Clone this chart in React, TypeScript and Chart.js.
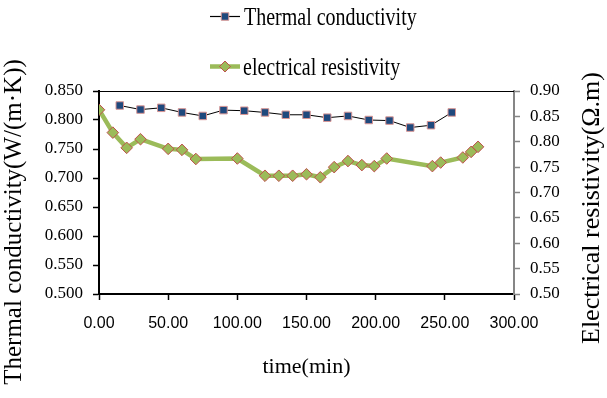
import React, { useEffect, useRef } from 'react';
import { Chart, registerables } from 'chart.js';

Chart.register(...registerables);

// ---- data ----
const thermalTimes = [15, 30, 45, 60, 75, 90, 105, 120, 135, 150, 165, 180, 195, 210, 225, 240, 255];
const thermalValues = [0.825, 0.818, 0.821, 0.813, 0.807, 0.817, 0.816, 0.813, 0.809, 0.809, 0.804, 0.807, 0.800, 0.799, 0.787, 0.791, 0.813];

const resistTimes = [0, 10, 20, 30, 50, 60, 70, 100, 120, 130, 140, 150, 160, 170, 180, 190, 199, 208, 241, 247, 263, 269, 274];
const resistValues = [0.863, 0.818, 0.788, 0.805, 0.786, 0.784, 0.766, 0.767, 0.733, 0.733, 0.733, 0.736, 0.730, 0.750, 0.762, 0.754, 0.752, 0.767, 0.752, 0.759, 0.769, 0.780, 0.790];

const xTickValues = [0, 50, 100, 150, 200, 250, 300];
const leftTickValues = [0.5, 0.55, 0.6, 0.65, 0.7, 0.75, 0.8, 0.85];
const rightTickValues = [0.5, 0.55, 0.6, 0.65, 0.7, 0.75, 0.8, 0.85, 0.9];

const thermalLabel = 'Thermal conductivity';
const resistLabel = 'electrical resistivity';
const xTitle = 'time(min)';
const leftTitle = 'Thermal conductivity(W/(m·K))';
const rightTitle = 'Electrical resistivity(Ω.m)';

const SERIF = '"Liberation Serif", "Times New Roman", serif';
const SANS = '"Liberation Sans", Arial, sans-serif';

const BLUE = '#1F497D';
const PINK = '#D99694';
const GREEN = '#9BBB59';
const RED = '#C0504D';

const decorPlugin = {
  id: 'decor',
  afterDraw(chart: any) {
    const { ctx, chartArea: a } = chart;
    ctx.save();
    // top border of plot area
    ctx.strokeStyle = '#000';
    ctx.lineWidth = 1;
    ctx.beginPath();
    ctx.moveTo(a.left, a.top + 0.5);
    ctx.lineTo(a.right, a.top + 0.5);
    ctx.stroke();

    // y axis titles
    ctx.fillStyle = '#000';
    ctx.textAlign = 'center';
    ctx.textBaseline = 'middle';
    ctx.font = `25px ${SERIF}`;
    ctx.save();
    ctx.translate(14, 222);
    ctx.rotate(-Math.PI / 2);
    ctx.fillText(leftTitle, 0, 0);
    ctx.restore();
    ctx.font = `26px ${SERIF}`;
    ctx.save();
    ctx.translate(592, 208);
    ctx.rotate(-Math.PI / 2);
    ctx.fillText(rightTitle, 0, 0);
    ctx.restore();

    // legend
    const lx0 = 210, lx1 = 240, mx = 225;
    // thermal
    let ly = 16.5;
    ctx.strokeStyle = '#000';
    ctx.lineWidth = 1.2;
    ctx.beginPath();
    ctx.moveTo(lx0, ly);
    ctx.lineTo(lx1, ly);
    ctx.stroke();
    ctx.fillStyle = BLUE;
    ctx.strokeStyle = PINK;
    ctx.lineWidth = 1;
    ctx.beginPath();
    ctx.rect(mx - 3.75, ly - 3.75, 7.5, 7.5);
    ctx.fill();
    ctx.stroke();
    // electrical
    ly = 66.5;
    ctx.strokeStyle = GREEN;
    ctx.lineWidth = 4.5;
    ctx.beginPath();
    ctx.moveTo(lx0, ly);
    ctx.lineTo(lx1, ly);
    ctx.stroke();
    ctx.fillStyle = GREEN;
    ctx.strokeStyle = RED;
    ctx.lineWidth = 1;
    ctx.beginPath();
    ctx.moveTo(mx, ly - 5.5);
    ctx.lineTo(mx + 5.5, ly);
    ctx.lineTo(mx, ly + 5.5);
    ctx.lineTo(mx - 5.5, ly);
    ctx.closePath();
    ctx.fill();
    ctx.stroke();

    // legend texts (horizontally condensed as in the reference)
    ctx.fillStyle = '#000';
    ctx.font = `25px ${SERIF}`;
    ctx.textAlign = 'left';
    ctx.textBaseline = 'alphabetic';
    ctx.save();
    ctx.translate(244, 25);
    ctx.scale(0.8, 1);
    ctx.fillText(thermalLabel, 0, 0);
    ctx.restore();
    ctx.save();
    ctx.translate(243, 75);
    ctx.scale(0.8, 1);
    ctx.fillText(resistLabel, 0, 0);
    ctx.restore();
    ctx.restore();
  },
};

export default function App() {
  const ref = useRef<HTMLCanvasElement | null>(null);

  useEffect(() => {
    if (!ref.current) return;
    const chart = new Chart(ref.current, {
      type: 'line',
      data: {
        datasets: [
          {
            label: thermalLabel,
            data: thermalTimes.map((t, i) => ({ x: t, y: thermalValues[i] })),
            yAxisID: 'y',
            borderColor: '#000',
            borderWidth: 1,
            backgroundColor: BLUE,
            pointStyle: 'rect',
            pointRadius: 5.3,
            pointBackgroundColor: BLUE,
            pointBorderColor: PINK,
            pointBorderWidth: 1,
            tension: 0,
            order: 1,
          },
          {
            label: resistLabel,
            data: resistTimes.map((t, i) => ({ x: t, y: resistValues[i] })),
            yAxisID: 'y2',
            borderColor: GREEN,
            borderWidth: 4.5,
            backgroundColor: GREEN,
            pointStyle: 'rectRot',
            pointRadius: 5.8,
            pointBackgroundColor: GREEN,
            pointBorderColor: RED,
            pointBorderWidth: 1,
            tension: 0,
            order: 2,
          },
        ],
      },
      options: {
        animation: false,
        responsive: false,
        layout: { padding: { top: 91, left: 0, right: 0, bottom: 0 }, autoPadding: false },
        plugins: {
          legend: { display: false },
          tooltip: { enabled: false },
        },
        scales: {
          x: {
            type: 'linear',
            min: 0,
            max: 300,
            afterBuildTicks: (s: any) => {
              s.ticks = xTickValues.map((v) => ({ value: v }));
            },
            afterFit: (s: any) => {
              s.height = 104;
            },
            ticks: {
              color: '#000',
              padding: 14,
              maxRotation: 0,
              font: { family: SANS, size: 16 },
              callback: (v: any) => Number(v).toFixed(2),
            },
            grid: { drawOnChartArea: false, color: '#000', tickLength: 6, tickWidth: 1.5 },
            border: { color: '#000', width: 2 },
            title: {
              display: true,
              text: xTitle,
              color: '#000',
              font: { family: SERIF, size: 22 },
              padding: { top: 0, bottom: 18 },
            },
          },
          y: {
            type: 'linear',
            position: 'left',
            min: 0.5,
            max: 0.85,
            afterBuildTicks: (s: any) => {
              s.ticks = leftTickValues.map((v) => ({ value: v }));
            },
            afterFit: (s: any) => {
              s.width = 99;
            },
            ticks: {
              color: '#000',
              padding: 10,
              font: { family: SERIF, size: 17 },
              callback: (v: any) => Number(v).toFixed(3),
            },
            grid: { drawOnChartArea: false, color: '#000', tickLength: 6, tickWidth: 1.5 },
            border: { color: '#000', width: 2 },
          },
          y2: {
            type: 'linear',
            position: 'right',
            min: 0.5,
            max: 0.9,
            afterBuildTicks: (s: any) => {
              s.ticks = rightTickValues.map((v) => ({ value: v }));
            },
            afterFit: (s: any) => {
              s.width = 93;
            },
            ticks: {
              color: '#000',
              padding: 10,
              font: { family: SERIF, size: 17 },
              callback: (v: any) => Number(v).toFixed(2),
            },
            grid: { drawOnChartArea: false, color: '#868686', tickLength: 6, tickWidth: 1.5 },
            border: { color: '#868686', width: 2 },
          },
        },
      },
      plugins: [decorPlugin],
    });
    return () => chart.destroy();
  }, []);

  return (
    <div style={{ position: 'absolute', left: 0, top: 0, width: 607, height: 398, background: '#fff' }}>
      <canvas ref={ref} width={607} height={398} style={{ display: 'block' }} />
    </div>
  );
}
